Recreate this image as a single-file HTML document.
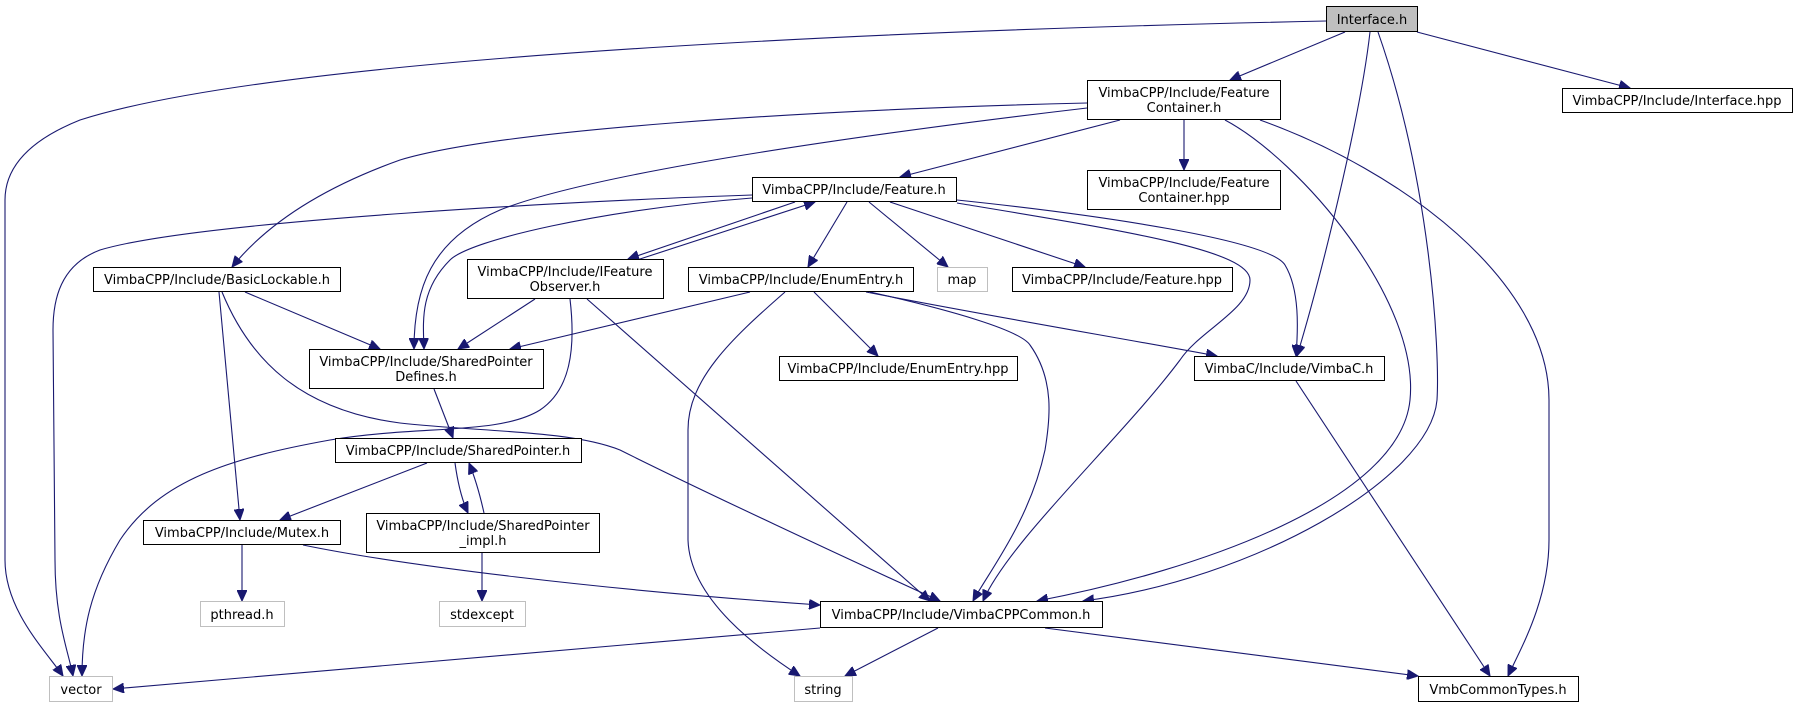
<!DOCTYPE html>
<html><head><meta charset="utf-8"><style>
html,body{margin:0;padding:0;background:#fff;}
svg{display:block;}
text{font-family:"DejaVu Sans","Liberation Sans",sans-serif;font-size:13px;fill:#000;}
.n{fill:#fff;stroke:#000;stroke-width:1;}
.g{fill:#fff;stroke:#bfbfbf;stroke-width:1;}
.e{fill:none;stroke:#191970;stroke-width:1.1;}
</style></head><body>
<svg width="1798" height="708" viewBox="0 0 1798 708" xmlns="http://www.w3.org/2000/svg">
<defs><marker id="a" markerUnits="userSpaceOnUse" markerWidth="12" markerHeight="10" refX="11" refY="5" orient="auto"><path d="M0,0 L11,5 L0,10 z" fill="#191970" stroke="#191970"/></marker></defs>
<g marker-end="url(#a)">
<path class="e" d="M1326,21 C1000,28 300,50 80,120 Q5,150 5,200 L5,560 C5,610 45,650 63,676"/>
<path class="e" d="M1345,32 L1230,80"/>
<path class="e" d="M1417,32 L1630,88"/>
<path class="e" d="M1370,32 C1360,120 1320,280 1297,356"/>
<path class="e" d="M1378,32 C1430,180 1440,350 1437,400 C1430,480 1250,580 1083,601"/>
<path class="e" d="M1225,120 C1300,160 1420,300 1410,400 C1400,500 1200,570 1037,601"/>
<path class="e" d="M1120,120 L900,177"/>
<path class="e" d="M1184,120 L1184,170"/>
<path class="e" d="M1260,120 C1400,170 1549,280 1549,400 L1549,540 C1549,600 1520,650 1508,676"/>
<path class="e" d="M1087,103 C800,110 500,130 400,160 C330,185 270,220 232,267"/>
<path class="e" d="M1087,108 C900,130 600,170 500,210 C430,240 414,290 414,349"/>
<path class="e" d="M752,195 C600,200 200,220 100,250 C60,265 53,300 53,330 L55,560 C55,620 68,650 73,676"/>
<path class="e" d="M752,198 C600,210 470,240 450,260 C420,290 423,320 424,349"/>
<path class="e" d="M795,202 L628,259"/>
<path class="e" d="M640,259 L815,202"/>
<path class="e" d="M847,202 L808,267"/>
<path class="e" d="M869,202 L948,267"/>
<path class="e" d="M890,202 L1085,267"/>
<path class="e" d="M957,200 C1100,215 1270,240 1285,265 C1300,290 1298,330 1296,356"/>
<path class="e" d="M957,203 C1120,230 1250,250 1250,280 C1250,310 1200,330 1180,360 C1120,440 1010,540 983,601"/>
<path class="e" d="M870,292 C950,310 1020,330 1030,345 C1055,380 1050,420 1045,450 C1030,520 990,570 973,601"/>
<path class="e" d="M866,292 C1000,318 1120,338 1217,356"/>
<path class="e" d="M814,292 L878,356"/>
<path class="e" d="M785,292 C730,340 688,380 688,430 L688,540 C690,600 760,650 800,676"/>
<path class="e" d="M750,292 L510,349"/>
<path class="e" d="M535,299 L458,349"/>
<path class="e" d="M570,299 C576,350 570,390 540,410 C500,435 420,425 330,440 C230,458 160,480 120,540 C90,590 82,630 82,676"/>
<path class="e" d="M587,299 L930,601"/>
<path class="e" d="M245,292 L380,349"/>
<path class="e" d="M219,292 L240,520"/>
<path class="e" d="M222,292 C250,360 300,410 400,423 C480,432 570,430 620,450 C700,490 850,560 940,601"/>
<path class="e" d="M434,389 L453,438"/>
<path class="e" d="M427,463 L280,520"/>
<path class="e" d="M455,463 C458,485 462,500 468,513"/>
<path class="e" d="M484,513 C480,495 476,480 469,463"/>
<path class="e" d="M482,553 L482,601"/>
<path class="e" d="M242,545 L242,601"/>
<path class="e" d="M303,545 C400,565 600,590 820,605"/>
<path class="e" d="M820,628 L113,689"/>
<path class="e" d="M938,628 L845,676"/>
<path class="e" d="M1045,628 L1418,676"/>
<path class="e" d="M1296,381 L1490,676"/>
</g>
<rect x="1326.5" y="6.5" width="91" height="25" fill="#bfbfbf" stroke="#000"/><text x="1372" y="24" text-anchor="middle">Interface.h</text>
<rect class="n" x="1087.5" y="80.5" width="193" height="39"/><text x="1184" y="97" text-anchor="middle">VimbaCPP/Include/Feature</text><text x="1184" y="112" text-anchor="middle">Container.h</text>
<rect class="n" x="1562.5" y="88.5" width="230" height="24"/><text x="1677" y="105" text-anchor="middle">VimbaCPP/Include/Interface.hpp</text>
<rect class="n" x="752.5" y="177.5" width="204" height="24"/><text x="854" y="194" text-anchor="middle">VimbaCPP/Include/Feature.h</text>
<rect class="n" x="1087.5" y="170.5" width="193" height="39"/><text x="1184" y="187" text-anchor="middle">VimbaCPP/Include/Feature</text><text x="1184" y="202" text-anchor="middle">Container.hpp</text>
<rect class="n" x="93.5" y="267.5" width="247" height="24"/><text x="217" y="284" text-anchor="middle">VimbaCPP/Include/BasicLockable.h</text>
<rect class="n" x="467.5" y="259.5" width="196" height="39"/><text x="565" y="276" text-anchor="middle">VimbaCPP/Include/IFeature</text><text x="565" y="291" text-anchor="middle">Observer.h</text>
<rect class="n" x="688.5" y="267.5" width="225" height="24"/><text x="801" y="284" text-anchor="middle">VimbaCPP/Include/EnumEntry.h</text>
<rect class="g" x="937.5" y="267.5" width="50" height="24"/><text x="962" y="284" text-anchor="middle">map</text>
<rect class="n" x="1012.5" y="267.5" width="220" height="24"/><text x="1122" y="284" text-anchor="middle">VimbaCPP/Include/Feature.hpp</text>
<rect class="n" x="309.5" y="349.5" width="234" height="39"/><text x="426" y="366" text-anchor="middle">VimbaCPP/Include/SharedPointer</text><text x="426" y="381" text-anchor="middle">Defines.h</text>
<rect class="n" x="779.5" y="356.5" width="238" height="24"/><text x="898" y="373" text-anchor="middle">VimbaCPP/Include/EnumEntry.hpp</text>
<rect class="n" x="1194.5" y="356.5" width="190" height="24"/><text x="1289" y="373" text-anchor="middle">VimbaC/Include/VimbaC.h</text>
<rect class="n" x="335.5" y="438.5" width="246" height="24"/><text x="458" y="455" text-anchor="middle">VimbaCPP/Include/SharedPointer.h</text>
<rect class="n" x="366.5" y="513.5" width="233" height="39"/><text x="483" y="530" text-anchor="middle">VimbaCPP/Include/SharedPointer</text><text x="483" y="545" text-anchor="middle">_impl.h</text>
<rect class="n" x="143.5" y="520.5" width="197" height="24"/><text x="242" y="537" text-anchor="middle">VimbaCPP/Include/Mutex.h</text>
<rect class="g" x="200.5" y="601.5" width="84" height="25"/><text x="242" y="619" text-anchor="middle">pthread.h</text>
<rect class="g" x="439.5" y="601.5" width="86" height="25"/><text x="482" y="619" text-anchor="middle">stdexcept</text>
<rect class="n" x="820.5" y="601.5" width="282" height="26"/><text x="961" y="619" text-anchor="middle">VimbaCPP/Include/VimbaCPPCommon.h</text>
<rect class="g" x="49.5" y="676.5" width="63" height="25"/><text x="81" y="694" text-anchor="middle">vector</text>
<rect class="g" x="794.5" y="676.5" width="58" height="25"/><text x="823" y="694" text-anchor="middle">string</text>
<rect class="n" x="1418.5" y="676.5" width="160" height="25"/><text x="1498" y="694" text-anchor="middle">VmbCommonTypes.h</text>
</svg>
</body></html>
